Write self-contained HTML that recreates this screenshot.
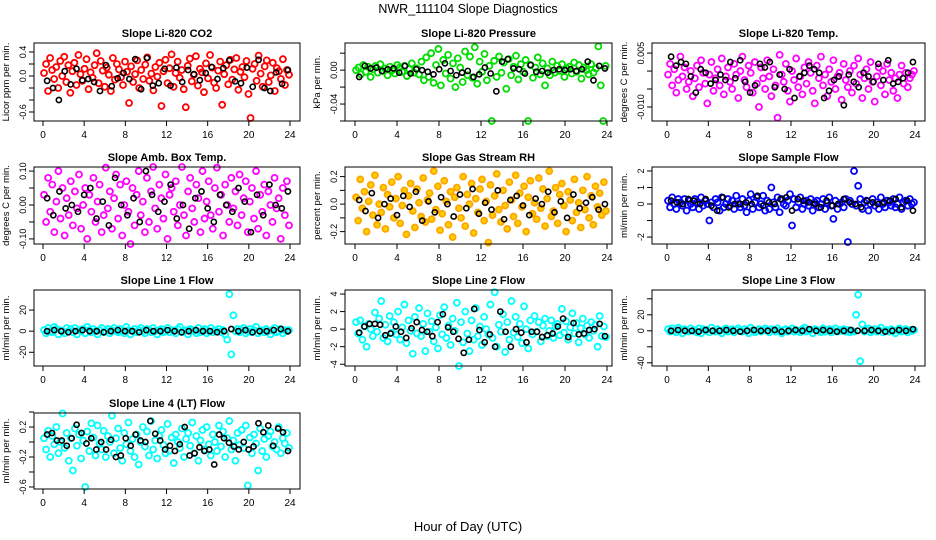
<!DOCTYPE html>
<html><head><meta charset="utf-8"><style>
html,body{margin:0;padding:0;background:#fff;}
svg{display:block;font-family:"Liberation Sans",sans-serif;}
</style></head><body>
<svg id="chart" width="936" height="540" viewBox="0 0 936 540" xmlns="http://www.w3.org/2000/svg">
<rect width="936" height="540" fill="#fff"/>
<text x="468" y="13" font-size="12.5" text-anchor="middle">NWR_111104  Slope Diagnostics</text>
<text x="468" y="531" font-size="13" text-anchor="middle">Hour of Day (UTC)</text>
</svg>
<script>
// ---- data (scaled integers; multiply by unit) ----
const xTicks = [0,4,8,12,16,20,24];
const titles = ["Slope Li-820 CO2","Slope Li-820 Pressure","Slope Li-820 Temp.","Slope Amb. Box Temp.","Slope Gas Stream RH","Slope Sample Flow","Slope Line 1 Flow","Slope Line 2 Flow","Slope Line 3 Flow","Slope Line 4 (LT) Flow"];
const yTitles = ["Licor ppm per min.","kPa per min.","degrees C per min.","degrees C per min.","percent per min.","ml/min per min.","ml/min per min.","ml/min per min.","ml/min per min.","ml/min per min."];
const units = [0.01,0.001,0.0001,0.01,0.01,0.1,1,0.1,1,0.01];
const yDomains = [[-0.75,0.55],[-0.06,0.032],[-0.0139,0.0078],[-0.115,0.112],[-0.29,0.27],[-2.42,2.24],[-33,39],[-4.2,4.46],[-44,51],[-0.627,0.387]];
const yTickVals = [[-0.6,-0.4,-0.2,0,0.2,0.4],[-0.06,-0.04,-0.02,0,0.02],[-0.010,-0.005,0,0.005],[-0.10,-0.05,0,0.05,0.10],[-0.2,-0.1,0,0.1,0.2],[-2,-1,0,1,2],[-20,0,20],[-4,-2,0,2,4],[-40,-20,0,20,40],[-0.6,-0.4,-0.2,0,0.2,0.4]];
const yTickLabels = [["-0.6","","","0.0","","0.4"],["","-0.04","","0.00",""],["-0.010","","","0.005"],["-0.10","","0.00","","0.10"],["-0.2","","0.0","","0.2"],["-2","","0","1","2"],["-20","0","20"],["-4","-2","0","2","4"],["-40","","0","20",""],["-0.6","","-0.2","","0.2",""]];
const colors = ["#ff0000","#00dd00","#ff00ff","#ff00ff","#ffa500","#0000ff","#00ffff","#00ffff","#00ffff","#00ffff"];

const co2 = [5,20,-25,30,10,-5,15,-20,25,0,32,-10,18,-28,8,22,-15,35,3,-8,12,28,-22,6,-3,18,38,-12,25,9,-18,14,2,-25,30,-6,20,11,-2,-15,24,7,-45,16,-10,3,26,-20,10,-5,19,31,-8,4,-24,15,-1,22,-50,8,27,-12,13,36,-18,5,24,-3,10,-22,-52,17,29,-9,2,33,-16,12,6,-27,21,-4,35,14,-11,-20,9,24,-48,3,18,-14,27,-6,11,30,-23,7,15,-2,25,-30,-70,12,20,-8,34,4,-18,16,26,-10,1,22,-25,13,8,-5,28,-15,10,2];
const co2Ref = [-8,-20,-40,8,-14,12,-7,-5,-10,-25,18,-17,-4,5,-5,28,-22,30,-16,-12,12,-16,14,-10,10,3,-7,5,15,-5,13,26,-9,-12,14,-18,27,-20,-25,6,-13,10];
const pres = [0,3,-5,6,-2,4,-8,1,5,-3,7,-1,2,-6,4,0,-4,6,3,-2,5,-7,1,8,-3,2,-5,10,-12,15,-8,20,-15,6,25,-18,12,-4,18,-10,8,-20,14,3,-14,22,-6,16,-9,27,-16,10,-2,19,-12,5,-60,11,-8,16,-3,9,-22,13,-6,4,17,-11,7,-2,12,-60,6,-9,3,15,-5,8,-18,2,-6,10,-3,5,-1,7,-8,2,4,-4,9,-2,6,-10,3,0,-5,7,-3,2,28,-18,-60,5];
const presRef = [-8,5,2,3,-1,1,2,-3,5,-4,1,0,-2,-5,1,8,-1,-6,-3,-1,-8,-5,3,-4,-25,10,13,2,1,-4,6,-2,-1,-3,0,1,0,1,-1,1,10,-12,5,2];
const temp = [-10,20,-40,5,-60,-25,40,-15,10,-50,-30,0,-70,-20,15,-45,30,-5,-35,-90,-10,25,-55,-20,5,-40,35,-65,-15,10,-30,-50,20,-10,-75,0,40,-25,-45,15,-5,-60,25,-35,-100,10,-20,-50,30,-15,-70,5,-40,-130,45,-10,-30,20,-55,-85,0,-25,35,-45,-15,-65,10,-35,25,-5,-55,-90,15,-20,40,-40,-10,-70,5,-30,30,-50,-15,-5,-80,20,-25,-45,0,-60,15,-35,35,-10,-75,-20,5,-50,25,-30,-85,-15,10,-40,0,-65,20,-25,-5,-55,-20,-75,-10,15,-35,-5,-45,-20,-10,0];
const tempRef = [40,15,25,20,-15,-60,5,-5,-35,-25,-10,-25,25,-20,30,-30,-60,-40,20,10,25,-45,-10,-50,5,-75,-15,-5,15,5,-5,-75,-55,-25,-15,-95,-10,-30,-45,-5,-15,-30,20,-25,30,-35,-30,-20,-5,25];
const amb = [3,-5,8,-2,6,-8,1,10,-4,5,-9,2,-3,7,-6,4,-1,9,-7,0,5,-10,3,-2,8,-5,1,6,-8,-3,11,-1,4,-7,2,9,-4,6,-9,0,7,-2,-12,5,-6,3,10,-3,1,-8,8,-5,4,12,-1,-7,6,2,-4,9,-10,3,5,-2,7,-6,0,13,-3,-9,4,8,-1,-5,6,2,-8,10,-4,1,7,-3,-7,5,11,-2,3,-9,6,0,-5,8,-1,4,-6,9,-3,2,7,-8,1,5,-4,10,-7,3,-2,6,-9,4,0,-5,8,-1,2,-10,5,-3,7,-6];
const ambRef = [2,-3,4,-1,0,-2,3,5,-4,1,-6,8,0,-3,2,-5,10,3,-2,1,6,-4,0,-7,2,4,-1,-5,3,0,-2,5,1,-8,3,-3,6,0,-1,4];
const rh = [5,-12,18,-3,9,-20,2,14,-8,21,-15,0,-6,12,-18,7,-2,16,-10,4,20,-14,-1,10,-22,6,15,-5,-17,11,1,-9,19,-13,3,8,-11,24,-4,13,-19,-7,17,2,-15,9,-24,5,12,-3,-10,20,-16,7,0,15,-21,4,-6,11,18,-12,2,-28,14,-8,6,22,-4,-13,10,-1,-18,16,3,-9,21,-14,8,-2,13,-20,5,17,-7,1,-11,19,-3,11,-16,4,24,-9,-5,12,-14,7,15,-1,-20,9,3,-12,18,-6,1,-17,10,-4,20,-10,6,-15,13,-2,8,-8,16,-5];
const rhRef = [3,-5,8,-10,0,4,-8,6,-2,9,-12,2,-6,5,0,-9,7,-3,11,-7,1,-4,10,-11,3,6,-1,-8,4,0,9,-6,2,-10,7,-3,1,5,-4,0];
const sflow = [2,-2,4,0,-3,3,1,-1,3,-4,2,0,-2,3,1,-3,4,-1,2,0,-10,1,-2,3,1,-4,4,-2,0,3,-1,2,-3,5,0,-2,3,-1,-5,2,6,-3,1,4,-2,0,5,-4,2,-3,10,1,-2,4,-5,3,0,-1,2,6,-13,3,-2,1,4,-3,0,2,-1,3,-4,1,2,-2,0,3,-3,1,4,-1,-9,2,-3,0,1,-2,3,-23,2,0,20,-1,11,3,-3,1,2,-4,0,3,-1,1,-3,4,0,-2,2,1,-1,3,-2,0,4,-3,1,2,-1,3,0,1];
const sflowRef = [2,1,0,3,2,0,3,-1,-4,4,-2,0,0,1,0,5,-1,1,0,3,4,-4,3,2,1,0,-2,2,-1,0,3,1,0,-2,2,1,0,1,2,3,-2,2,-4];
const line1 = [1,-2,3,0,-1,4,2,-3,1,0,-2,3,0,2,-1,3,-3,1,0,2,-2,4,1,-1,2,0,-3,1,3,-1,0,2,-2,1,3,0,-1,2,0,-2,4,1,-3,0,2,-1,1,3,0,-2,2,1,-1,3,0,-3,1,2,-1,0,3,-1,1,0,-2,2,4,-1,0,1,-3,2,1,0,-2,3,-1,1,2,-2,0,3,-1,1,0,2,-1,1,-3,-8,35,-22,15,0,2,-1,1,3,-2,0,2,-1,1,4,-2,0,1,-1,2,0,-3,1,3,-1,0,2,-2,1,0,1];
const line1Ref = [0,1,0,-1,0,1,0,0,-1,0,1,0,0,-1,1,0,0,1,0,-1,0,1,0,0,-1,0,2,0,1,-1,0,0,1,2,0];
const line2 = [8,-5,10,-12,3,-20,6,0,-8,19,-3,12,32,-10,5,-14,15,-4,8,-6,20,-12,2,28,-16,10,-2,-28,14,-5,24,-8,6,-25,18,-3,9,-14,2,-22,16,-6,25,-10,4,-18,12,-2,30,-42,8,-15,20,-5,-25,10,-12,24,-8,3,-18,14,0,-6,28,-10,42,-20,5,-3,17,-26,8,-12,32,-4,14,-9,6,-16,26,0,-22,10,-6,15,-3,8,-14,4,12,-8,-2,10,-10,3,6,-7,23,-4,9,-12,2,18,-5,7,-15,1,12,-6,4,-10,8,-2,5,-20,15,-8,3,-9];
const line2Ref = [-4,3,6,6,5,-7,-5,3,-3,-10,1,8,-1,-3,-8,8,17,2,-3,-11,-27,-12,23,-1,-15,-6,-20,20,-3,-20,0,-4,-15,-3,-3,-9,-7,-5,3,12,-9,7,-6,-5,-1,0,6,-8];
const line3 = [2,-1,3,0,-2,4,1,-3,2,0,-1,3,0,1,-2,3,-3,2,0,1,-2,4,0,-1,2,0,-3,1,3,-1,0,2,-2,1,3,0,-1,2,0,-3,4,1,-2,0,2,-1,1,3,0,-2,2,1,-1,3,0,-3,1,2,-1,0,3,-1,1,0,-2,2,4,-1,0,1,-3,2,1,0,-2,3,-1,1,2,-2,0,3,-1,1,0,2,-1,1,-2,0,-1,20,45,-38,8,-1,1,3,-2,0,2,-1,1,4,-2,0,1,-1,2,0,-3,1,3,-1,0,2,-2,1,0,1];
const line3Ref = [0,1,0,0,-1,1,0,0,1,0,-1,0,1,0,0,1,-1,0,1,0,2,0,1,0,-1,0,1,0,0,1,0,-1,0,1,0,2];
const line4 = [5,-10,15,-20,8,-3,20,-15,0,38,-8,12,-25,5,-38,18,-5,10,-22,2,-60,14,-12,25,6,-18,22,-2,-10,15,-20,8,0,35,-15,5,18,-8,-25,12,-3,26,-12,4,-20,10,-30,0,20,-6,14,-18,28,-10,2,-22,8,16,-4,-15,24,-12,6,-28,10,0,-8,18,-20,4,12,-5,26,-15,8,-25,2,16,-10,20,-3,-18,10,0,-12,22,-6,14,-20,5,28,-10,2,-25,12,-4,16,-8,22,-58,6,-15,10,-2,-38,18,-12,4,-20,8,14,-6,0,-10,20,-15,5,-2,12,-8];
const line4Ref = [10,12,2,2,-5,5,23,12,-2,5,-10,0,-10,3,-20,-18,5,-5,10,2,0,28,11,2,-10,-5,-12,-3,20,-18,-15,-7,-12,-10,-30,10,5,-1,-6,-10,0,-10,-6,25,13,22,-5,18,13,-12];

const series = [co2,pres,temp,amb,rh,sflow,line1,line2,line3,line4];
const refSeries = [co2Ref,presRef,tempRef,ambRef,rhRef,sflowRef,line1Ref,line2Ref,line3Ref,line4Ref];

// ---- layout ----
const colBox = [[34,300,43,290],[345,612,355,607],[652,925,667,915]];
const rowBox = [[43,121],[167,244],[290,366],[413,489]];
const NS = "http://www.w3.org/2000/svg";
const svg = document.getElementById("chart");
function mk(tag, attrs, parent){
  const e = document.createElementNS(NS, tag);
  for (const k in attrs) e.setAttribute(k, attrs[k]);
  (parent||svg).appendChild(e);
  return e;
}
function fmtName(s){return s.toLowerCase().replace(/[^a-z0-9]+/g,'-').replace(/^-|-$/g,'');}

for (let p = 0; p < 10; p++) {
  const c = colBox[p % 3], r = rowBox[Math.floor(p / 3)];
  const [L, R, X0, X24] = c, [T, B] = r;
  const [ymin, ymax] = yDomains[p];
  const xs = h => X0 + (X24 - X0) * h / 24;
  const ys = v => B - (v - ymin) / (ymax - ymin) * (B - T);
  const g = mk("g", {});
  
  

  const t = mk("text", {x:(L+R)/2, y:T-6, "font-size":11, "font-weight":"bold", "text-anchor":"middle"}, g);
  t.textContent = titles[p];
  
  

  const yt = mk("text", {x:0, y:0, "font-size":9.5, "text-anchor":"middle", transform:`translate(${L-25},${(T+B)/2}) rotate(-90)`}, g);
  yt.textContent = yTitles[p];
  
  

  const pts = mk("g", {}, g);
  
  
  const d = series[p], n = d.length;
  for (let i = 0; i < n; i++) {
    const cy = Math.max(T, Math.min(B, ys(d[i] * units[p])));
    const ci = mk("circle", {cx:xs(0.1 + i * 24 / n), cy:cy, r:3, fill:p===4?"#ffd000":"none", stroke:colors[p], "stroke-width":1.8}, pts);
    
    
  }
  const rs = refSeries[p], m = rs.length;
  for (let i = 0; i < m; i++) {
    const cy = Math.max(T, Math.min(B, ys(rs[i] * units[p])));
    const ci = mk("circle", {cx:xs(0.4 + i * 23.4 / (m - 1)), cy:cy, r:2.6, fill:"none", stroke:"#000", "stroke-width":1.6}, pts);
    
    
  }

  const box = mk("rect", {x:L, y:T, width:R-L, height:B-T, fill:"none", stroke:"#000", "stroke-width":1}, g);
  
  

  for (const h of xTicks) {
    const x = xs(h);
    const tk = mk("line", {x1:x, x2:x, y1:B, y2:B+5, stroke:"#000"}, g);
    
    
    const tl = mk("text", {x:x, y:B+17, "font-size":10, "text-anchor":"middle"}, g);
    tl.textContent = h;
    
    
  }
  const tv = yTickVals[p], tls = yTickLabels[p];
  for (let k = 0; k < tv.length; k++) {
    const y = ys(tv[k]);
    const tk = mk("line", {x1:L-5, x2:L, y1:y, y2:y, stroke:"#000"}, g);
    
    
    if (tls[k]) {
      const tl = mk("text", {x:0, y:0, "font-size":9, "text-anchor":"middle", transform:`translate(${L-8},${y}) rotate(-90)`}, g);
      tl.textContent = tls[k];
      
      
    }
  }
}
</script>
</body></html>
